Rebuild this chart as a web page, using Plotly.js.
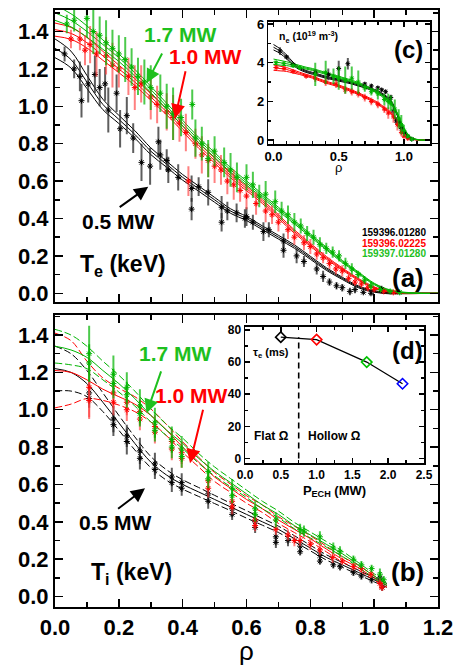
<!DOCTYPE html>
<html><head><meta charset="utf-8">
<script src="https://cdn.plot.ly/plotly-3.0.1.min.js"></script>
<style>html,body{margin:0;padding:0;background:#fff}#chart{width:460px;height:666px}</style>
</head><body><div id="chart"></div><script>
// ---- shots ----
const shotNames = ['159396.01280', '159396.02225', '159397.01280'];
const shotPower = ['0.5 MW', '1.0 MW', '1.7 MW'];

// ---- Te profile fits (panel a) ----
const rhoFit = [0,0.05,0.1,0.15,0.2,0.25,0.3,0.35,0.4,0.45,0.5,0.55,0.6,0.65,0.7,0.75,0.8,0.85,0.9,0.95,1.0,1.05,1.1,1.15,1.2];
const teFitA = [1.31,1.25,1.13,1.01,0.93,0.85,0.76,0.69,0.62,0.56,0.50,0.44,0.40,0.35,0.30,0.25,0.19,0.13,0.08,0.035,0.01,0.0,0.0,0.0,0.0];
const teFitB = [1.41,1.39,1.34,1.27,1.20,1.13,1.05,0.97,0.88,0.79,0.71,0.63,0.56,0.49,0.41,0.33,0.26,0.19,0.13,0.075,0.03,0.008,0.0,0.0,0.0];
const teFitC = [1.50,1.46,1.40,1.33,1.26,1.18,1.09,1.00,0.91,0.82,0.74,0.66,0.59,0.52,0.45,0.38,0.31,0.24,0.17,0.11,0.05,0.015,0.003,0.0,0.0];
const teBandA = [0.05,0.045,0.035,0.028,0.022,0.02,0.018,0.016,0.015,0.014,0.013,0.012,0.011,0.01,0.01,0.009,0.008,0.007,0.006,0.005,0.004,0.003,0.002,0.001,0.0];
const teBandB = [0.035,0.032,0.028,0.024,0.02,0.018,0.017,0.016,0.015,0.014,0.013,0.012,0.011,0.01,0.01,0.009,0.008,0.007,0.006,0.005,0.004,0.003,0.002,0.001,0.0];
const teBandC = [0.04,0.035,0.03,0.025,0.02,0.018,0.017,0.016,0.015,0.014,0.013,0.012,0.011,0.01,0.01,0.009,0.008,0.007,0.006,0.005,0.004,0.003,0.002,0.001,0.0];

// ---- Te measurements ----
const teRhoA = [0.03,0.06,0.078,0.083,0.104,0.125,0.14,0.157,0.167,0.193,0.204,0.225,0.245,0.271,0.298,0.324,0.33,0.35,0.355,0.386,0.428,0.428,0.45,0.48,0.522,0.522,0.54,0.569,0.595,0.6,0.62,0.653,0.67,0.716,0.716,0.757,0.78,0.82,0.84,0.86,0.882,0.9,0.924,0.94,0.966,0.99,1.023];
const teValA = [1.28,1.20,1.16,1.03,1.12,1.17,1.10,1.12,0.98,1.07,0.88,0.95,0.83,0.70,0.68,0.81,0.74,0.71,0.66,0.62,0.56,0.45,0.57,0.54,0.46,0.38,0.44,0.43,0.40,0.41,0.38,0.33,0.34,0.28,0.23,0.20,0.17,0.13,0.09,0.06,0.04,0.03,0.01,0.02,0.005,0.0,0.02];
const teErrA = [0.04,0.05,0.08,0.09,0.10,0.10,0.10,0.09,0.12,0.10,0.10,0.10,0.08,0.10,0.10,0.08,0.08,0.06,0.07,0.07,0.07,0.06,0.05,0.07,0.06,0.05,0.05,0.05,0.05,0.05,0.04,0.05,0.04,0.04,0.04,0.04,0.03,0.03,0.03,0.02,0.02,0.02,0.02,0.02,0.01,0.01,0.02];
const teRhoB = [0.05,0.078,0.094,0.11,0.13,0.16,0.18,0.2,0.23,0.25,0.27,0.30,0.32,0.35,0.37,0.39,0.41,0.418,0.44,0.46,0.48,0.5,0.52,0.54,0.56,0.58,0.6,0.63,0.66,0.68,0.7,0.73,0.75,0.78,0.8,0.82,0.84,0.86,0.88,0.9,0.92,0.94,0.96,0.98,1.0,1.03,1.06];
const teValB = [1.36,1.36,1.30,1.33,1.28,1.27,1.22,1.20,1.16,1.10,1.12,1.05,1.01,0.97,0.94,0.91,0.86,0.60,0.80,0.74,0.71,0.68,0.66,0.60,0.58,0.55,0.52,0.48,0.44,0.42,0.38,0.34,0.30,0.27,0.25,0.21,0.19,0.16,0.13,0.12,0.08,0.06,0.05,0.03,0.02,0.01,0.005];
const teErrB = [0.05,0.06,0.08,0.10,0.12,0.10,0.12,0.10,0.10,0.12,0.10,0.12,0.10,0.10,0.12,0.10,0.10,0.08,0.08,0.10,0.09,0.09,0.08,0.07,0.08,0.06,0.07,0.06,0.06,0.05,0.05,0.05,0.04,0.04,0.04,0.03,0.03,0.03,0.03,0.03,0.02,0.02,0.02,0.02,0.01,0.01,0.01];
const teRhoC = [0.037,0.06,0.1,0.12,0.14,0.16,0.18,0.2,0.22,0.24,0.26,0.28,0.30,0.33,0.35,0.37,0.395,0.43,0.44,0.46,0.48,0.5,0.53,0.55,0.57,0.6,0.62,0.64,0.66,0.69,0.71,0.73,0.75,0.77,0.79,0.81,0.83,0.85,0.87,0.89,0.91,0.93,0.95,0.97,0.99,1.02,1.05,1.08];
const teValC = [1.44,1.46,1.47,1.40,1.38,1.34,1.31,1.28,1.25,1.21,1.16,1.13,1.10,1.07,1.00,0.96,0.94,1.01,0.83,0.80,0.72,0.76,0.70,0.66,0.62,0.62,0.58,0.52,0.53,0.49,0.44,0.42,0.38,0.36,0.32,0.30,0.26,0.24,0.22,0.20,0.16,0.13,0.10,0.07,0.04,0.02,0.01,0.005];
const teErrC = [0.05,0.06,0.10,0.12,0.10,0.12,0.10,0.10,0.12,0.10,0.10,0.12,0.12,0.10,0.12,0.14,0.10,0.08,0.10,0.09,0.10,0.08,0.08,0.09,0.08,0.07,0.07,0.06,0.07,0.06,0.05,0.05,0.05,0.04,0.04,0.04,0.04,0.03,0.03,0.03,0.03,0.03,0.02,0.02,0.02,0.01,0.01,0.01];

// ---- Ti profile fits (panel b) ----
const rhoFitTi = [0,0.05,0.1,0.15,0.2,0.25,0.3,0.35,0.4,0.45,0.5,0.55,0.6,0.65,0.7,0.75,0.8,0.85,0.9,0.95,1.0,1.04];
const tiFitA = [1.22,1.20,1.14,1.04,0.93,0.82,0.72,0.65,0.60,0.56,0.52,0.48,0.44,0.40,0.36,0.31,0.26,0.21,0.17,0.13,0.09,0.06];
const tiFitB = [1.21,1.20,1.16,1.11,1.07,1.03,0.97,0.89,0.80,0.72,0.64,0.58,0.52,0.47,0.41,0.36,0.31,0.255,0.20,0.155,0.10,0.06];
const tiFitC = [1.34,1.32,1.28,1.21,1.14,1.06,0.97,0.89,0.82,0.74,0.67,0.61,0.55,0.49,0.44,0.38,0.33,0.28,0.23,0.17,0.11,0.07];
const tiBandA = [0.12,0.10,0.07,0.05,0.04,0.035,0.03,0.028,0.025,0.024,0.022,0.02,0.02,0.018,0.017,0.016,0.015,0.014,0.013,0.012,0.011,0.01];
const tiBandB = [0.20,0.17,0.10,0.06,0.045,0.04,0.035,0.03,0.028,0.026,0.024,0.022,0.02,0.02,0.018,0.017,0.016,0.015,0.014,0.013,0.012,0.01];
const tiBandC = [0.09,0.08,0.06,0.05,0.045,0.04,0.035,0.03,0.028,0.026,0.024,0.022,0.02,0.02,0.018,0.017,0.016,0.015,0.014,0.013,0.012,0.01];

// ---- Ti measurements ----
const tiRhoA = [0.107,0.107,0.183,0.183,0.225,0.225,0.266,0.266,0.313,0.313,0.366,0.366,0.397,0.397,0.48,0.48,0.555,0.555,0.627,0.627,0.692,0.692,0.73,0.768,0.768,0.83,0.83,0.872,0.893,0.935,0.96,0.992,1.018,1.025];
const tiValA = [1.09,1.06,0.95,0.92,0.86,0.83,0.78,0.74,0.71,0.68,0.64,0.61,0.61,0.58,0.55,0.51,0.47,0.44,0.40,0.37,0.32,0.29,0.30,0.27,0.24,0.22,0.19,0.17,0.16,0.13,0.11,0.09,0.10,0.05];
const tiErrA = [0.06,0.05,0.07,0.06,0.06,0.07,0.07,0.06,0.06,0.05,0.05,0.05,0.05,0.04,0.04,0.04,0.04,0.03,0.03,0.03,0.03,0.03,0.03,0.03,0.02,0.03,0.02,0.02,0.02,0.02,0.02,0.02,0.03,0.02];
const tiRhoB = [0.107,0.107,0.183,0.183,0.225,0.225,0.266,0.266,0.313,0.313,0.366,0.366,0.397,0.397,0.48,0.48,0.555,0.555,0.627,0.627,0.692,0.73,0.75,0.768,0.8,0.83,0.87,0.9,0.935,0.96,0.99,1.018,1.025];
const tiValB = [1.12,1.05,1.09,1.04,1.04,1.00,0.99,0.95,0.91,0.88,0.83,0.79,0.77,0.74,0.62,0.58,0.51,0.48,0.41,0.38,0.36,0.33,0.30,0.30,0.28,0.25,0.21,0.19,0.16,0.15,0.12,0.07,0.05];
const tiErrB = [0.16,0.10,0.08,0.07,0.07,0.06,0.07,0.06,0.06,0.06,0.06,0.06,0.06,0.05,0.05,0.05,0.04,0.04,0.04,0.03,0.03,0.03,0.03,0.03,0.03,0.03,0.03,0.02,0.02,0.02,0.02,0.03,0.02];
const tiRhoC = [0.107,0.107,0.183,0.183,0.225,0.225,0.266,0.266,0.313,0.313,0.366,0.366,0.397,0.397,0.48,0.48,0.555,0.555,0.627,0.627,0.692,0.768,0.78,0.83,0.872,0.893,0.935,0.96,0.992,1.018,1.03];
const tiValC = [1.30,1.25,1.19,1.14,1.12,1.08,1.02,0.98,0.93,0.89,0.84,0.80,0.79,0.75,0.67,0.63,0.58,0.54,0.47,0.44,0.41,0.36,0.35,0.32,0.26,0.24,0.20,0.17,0.15,0.12,0.09];
const tiErrC = [0.15,0.10,0.10,0.08,0.08,0.07,0.09,0.07,0.08,0.06,0.07,0.06,0.07,0.06,0.05,0.05,0.05,0.04,0.04,0.04,0.04,0.03,0.03,0.03,0.03,0.03,0.02,0.02,0.02,0.03,0.02];

// ---- ne profiles (inset c) ----
const neFitA = [4.8,4.6,4.3,3.95,3.7,3.55,3.45,3.35,3.25,3.18,3.1,3.03,2.95,2.85,2.75,2.63,2.5,2.3,2.0,1.3,0.45,0.1,0.02,0,0];
const neFitB = [3.75,3.7,3.65,3.55,3.45,3.35,3.25,3.12,3.0,2.9,2.8,2.68,2.55,2.4,2.25,2.08,1.9,1.65,1.4,0.95,0.3,0.08,0.02,0,0];
const neFitC = [4.05,4.0,3.95,3.88,3.8,3.72,3.65,3.55,3.45,3.35,3.25,3.15,3.05,2.93,2.8,2.63,2.45,2.2,1.9,1.35,0.6,0.15,0.03,0,0];
const neBand = [0.14,0.12,0.1,0.08,0.06,0.05,0.05,0.05,0.05,0.05,0.05,0.05,0.05,0.05,0.05,0.05,0.05,0.05,0.05,0.05,0.04,0.02,0.01,0,0];
const neRhoA = [0.05,0.1,0.15,0.32,0.42,0.5,0.57,0.7,0.75,0.8,0.83,0.86,0.9,0.92,0.94,0.96,0.98,1.0,1.03,1.06];
const neValA = [4.6,4.3,3.9,3.5,3.4,3.7,3.95,2.9,2.8,2.7,2.6,2.5,2.2,1.5,1.0,0.9,0.6,0.4,0.15,0.05];
const neErrA = [0.2,0.1,0.1,0.15,0.3,0.4,0.3,0.1,0.1,0.1,0.1,0.1,0.15,0.2,0.2,0.2,0.2,0.1,0.05,0.03];
const neRhoB = [0.02,0.08,0.15,0.25,0.32,0.4,0.48,0.55,0.6,0.65,0.7,0.75,0.8,0.85,0.88,0.92,0.95,0.98,1.0,1.03];
const neValB = [3.75,3.7,3.55,3.3,3.2,3.0,2.9,2.6,2.5,2.4,2.2,2.0,1.85,1.6,1.4,1.2,0.8,0.4,0.2,0.08];
const neErrB = [0.1,0.1,0.1,0.1,0.2,0.2,0.2,0.2,0.2,0.2,0.2,0.2,0.2,0.2,0.3,0.3,0.3,0.2,0.1,0.05];
const neRhoC = [0.02,0.08,0.15,0.2,0.32,0.4,0.46,0.5,0.55,0.6,0.65,0.7,0.75,0.8,0.85,0.88,0.9,0.93,0.96,0.98,1.0,1.03,1.06];
const neValC = [4.0,3.95,3.85,3.75,3.4,3.5,3.3,3.2,3.1,3.2,3.0,2.7,2.5,2.4,2.1,2.0,1.9,1.6,1.1,0.8,0.5,0.2,0.05];
const neErrC = [0.1,0.1,0.1,0.1,0.6,0.6,0.4,0.6,0.7,0.6,0.6,0.2,0.2,0.3,0.3,0.4,0.4,0.5,0.5,0.5,0.3,0.1,0.05];

// ---- confinement time vs ECH power (inset d) ----
const pech = [0.5, 1.0, 1.7, 2.2];
const tauE = [75.5, 74, 60, 46.5];
const tauColors = ['#000000', '#ff0000', '#00c000', '#0000ff'];
const flatHollowBoundary = 0.75;

// ---- styling ----
const lineCol = ['#000000', '#ff0000', '#00b400'];
const barCol = ['rgba(40,40,40,0.75)', 'rgba(255,60,60,0.65)', 'rgba(0,180,0,0.7)'];
const FONT = 'Liberation Sans, Arial, Helvetica, sans-serif';

function band(fit, w, s) { return fit.map((v, i) => v + s * w[i]); }

const traces = [];
function addFits(rho, fits, bands, xa, ya, bandDash) {
  fits.forEach((f, k) => {
    [-1, 0, 1].forEach(s => {
      traces.push({
        x: rho, y: s === 0 ? f : band(f, bands[k], s), xaxis: xa, yaxis: ya,
        mode: 'lines', line: {color: lineCol[k], width: 1, shape: 'spline',
          dash: (s !== 0 && bandDash) ? '7px,3px' : 'solid'},
        hoverinfo: 'skip', showlegend: false
      });
    });
  });
}
function addData(rhos, vals, errs, xa, ya, msize) {
  rhos.forEach((r, k) => {
    traces.push({
      x: r, y: vals[k], xaxis: xa, yaxis: ya, mode: 'markers',
      marker: {symbol: 'asterisk-open', size: msize, color: lineCol[k], line: {color: lineCol[k], width: 1}},
      error_y: {type: 'data', array: errs[k], visible: true, color: barCol[k], thickness: 2, width: 0},
      showlegend: false
    });
  });
}

// panel a: Te
addFits(rhoFit, [teFitA, teFitB, teFitC], [teBandA, teBandB, teBandC], 'x', 'y', false);
addData([teRhoA, teRhoB, teRhoC], [teValA, teValB, teValC], [teErrA, teErrB, teErrC], 'x', 'y', 5);
// panel b: Ti
addFits(rhoFitTi, [tiFitA, tiFitB, tiFitC], [tiBandA, tiBandB, tiBandC], 'x2', 'y2', true);
addData([tiRhoA, tiRhoB, tiRhoC], [tiValA, tiValB, tiValC], [tiErrA, tiErrB, tiErrC], 'x2', 'y2', 5);
// inset c: ne
addFits(rhoFit, [neFitA, neFitB, neFitC], [neBand, neBand, neBand], 'x3', 'y3', false);
addData([neRhoA, neRhoB, neRhoC], [neValA, neValB, neValC], [neErrA, neErrB, neErrC], 'x3', 'y3', 4);
// inset d: tau_e
traces.push({x: pech, y: tauE, xaxis: 'x4', yaxis: 'y4', mode: 'lines+markers',
  line: {color: '#000', width: 1.3},
  marker: {symbol: 'diamond-open', size: 8, color: tauColors, line: {color: tauColors, width: 1.6}},
  showlegend: false});

// pixel helpers for domains on a 460x666 page
const W = 460, H = 666;
const dx = (a, b) => [a / W, b / W];
const dy = (top, bot) => [1 - bot / H, 1 - top / H];

const tickBold = (s) => ({family: FONT, size: s, color: '#000', weight: 'bold'});
function axis(extra) {
  return Object.assign({
    showline: true, linecolor: '#000', linewidth: 2, mirror: 'ticks',
    ticks: 'inside', tickcolor: '#000', tickwidth: 1.5, ticklen: 8,
    showgrid: false, zeroline: false, tickfont: tickBold(22)
  }, extra);
}

const layout = {
  width: W, height: H, margin: {l: 0, r: 0, t: 0, b: 0},
  paper_bgcolor: '#fff', plot_bgcolor: '#fff', showlegend: false,
  font: {family: FONT, color: '#000'},
  xaxis: axis({domain: dx(55, 438), range: [0, 1.2], dtick: 0.2, showticklabels: false,
    minor: {dtick: 0.1, ticks: 'inside', ticklen: 5, tickcolor: '#000'}, anchor: 'y'}),
  yaxis: axis({domain: dy(10, 301.7), range: [-0.045, 1.515], dtick: 0.2, tick0: 0, tickformat: '.1f',
    minor: {dtick: 0.1, ticks: 'inside', ticklen: 5, tickcolor: '#000'}, anchor: 'x'}),
  xaxis2: axis({domain: dx(55, 438), range: [0, 1.2], dtick: 0.2, tickformat: '.1f',
    minor: {dtick: 0.1, ticks: 'inside', ticklen: 5, tickcolor: '#000'}, anchor: 'y2',
    title: {text: 'ρ', font: {family: FONT, size: 26}, standoff: 9}}),
  yaxis2: axis({domain: dy(315, 606.7), range: [-0.054, 1.507], dtick: 0.2, tick0: 0, tickformat: '.1f',
    minor: {dtick: 0.1, ticks: 'inside', ticklen: 5, tickcolor: '#000'}, anchor: 'x2'}),
  xaxis3: axis({domain: dx(268.3, 430), range: [-0.04, 1.2], dtick: 0.5, tickformat: '.1f', linewidth: 1.5,
    ticklen: 5, tickfont: tickBold(13), minor: {dtick: 0.1, ticks: 'inside', ticklen: 3, tickcolor: '#000'},
    anchor: 'y3'}),
  yaxis3: axis({domain: dy(21.7, 144), range: [-0.2, 6.12], dtick: 2, linewidth: 1.5, ticklen: 5,
    tickfont: tickBold(13), minor: {dtick: 1, ticks: 'inside', ticklen: 3, tickcolor: '#000'}, anchor: 'x3'}),
  xaxis4: axis({domain: dx(245, 424), range: [0, 2.5], dtick: 0.5, tickformat: '.1f', linewidth: 1.5,
    ticklen: 5, tickfont: tickBold(12), minor: {dtick: 0.25, ticks: 'inside', ticklen: 3, tickcolor: '#000'},
    anchor: 'y4', title: {text: 'P<sub>ECH</sub> (MW)', font: {family: FONT, size: 13, weight: 'bold'}, standoff: 4}}),
  yaxis4: axis({domain: dy(326.7, 463.3), range: [-3, 82], dtick: 20, linewidth: 1.5, ticklen: 5,
    tickfont: tickBold(12), minor: {dtick: 10, ticks: 'inside', ticklen: 3, tickcolor: '#000'}, anchor: 'x4'}),
  shapes: [{type: 'line', xref: 'x4', yref: 'y4', x0: flatHollowBoundary, x1: flatHollowBoundary,
    y0: 0, y1: tauE[0], line: {color: '#000', width: 1.6, dash: '6px,4px'}}],
  annotations: []
};

const ann = layout.annotations;
function label(xr, yr, x, y, text, size, color, anchor) {
  ann.push({xref: xr, yref: yr, x: x, y: y, text: text, showarrow: false,
    xanchor: anchor || 'center', yanchor: 'middle',
    font: {family: FONT, size: size, color: color, weight: 'bold'}});
}
function arrow(xr, yr, x, y, ax, ay, color) {
  ann.push({xref: xr, yref: yr, axref: xr, ayref: yr, x: x, y: y, ax: ax, ay: ay, text: '',
    showarrow: true, arrowhead: 2, arrowsize: 1.4, arrowwidth: 2, arrowcolor: color});
}

// panel a
label('x', 'y', 0.392, 1.383, shotPower[2], 21, '#1ec01e');
label('x', 'y', 0.47, 1.266, shotPower[1], 21, '#ff0000');
label('x', 'y', 0.198, 0.383, shotPower[0], 21, '#000');
arrow('x', 'y', 0.287, 1.124, 0.338, 1.29, '#1ec01e');
arrow('x', 'y', 0.376, 0.936, 0.41, 1.195, '#ff0000');
arrow('x', 'y', 0.292, 0.57, 0.198, 0.455, '#000');
label('x', 'y', 0.213, 0.151, 'T<sub>e</sub> (keV)', 23, '#000');
label('x', 'y', 1.106, 0.082, '(a)', 26, '#000');
[232.5, 243, 253.5].forEach((py, k) => {
  ann.push({xref: 'paper', yref: 'paper', x: 428 / W, y: 1 - py / H, text: shotNames[k],
    showarrow: false, xanchor: 'right', yanchor: 'middle',
    font: {family: FONT, size: 10, color: ['#000', '#ff0000', '#1ec01e'][k], weight: 'bold'}});
});

// panel b
label('x2', 'y2', 0.376, 1.302, shotPower[2], 21, '#1ec01e');
label('x2', 'y2', 0.428, 1.074, shotPower[1], 21, '#ff0000');
label('x2', 'y2', 0.188, 0.398, shotPower[0], 21, '#000');
arrow('x2', 'y2', 0.287, 0.981, 0.334, 1.213, '#1ec01e');
arrow('x2', 'y2', 0.423, 0.714, 0.465, 1.008, '#ff0000');
arrow('x2', 'y2', 0.282, 0.58, 0.193, 0.464, '#000');
label('x2', 'y2', 0.24, 0.125, 'T<sub>i</sub> (keV)', 23, '#000');
label('x2', 'y2', 1.104, 0.134, '(b)', 26, '#000');

// inset c
label('x3', 'y3', 0.03, 5.33, 'n<sub>e</sub> (10<sup>19</sup> m<sup>-3</sup>)', 10.5, '#000', 'left');
label('x3', 'y3', 1.033, 4.66, '(c)', 24, '#000');
ann.push({xref: 'x3', yref: 'paper', x: 0.5, y: 1 - 168 / H, text: 'ρ', showarrow: false,
  xanchor: 'center', yanchor: 'middle', font: {family: FONT, size: 13, color: '#000'}});

// inset d
label('x4', 'y4', 0.36, 65.5, 'τ<sub>e</sub> (ms)', 11, '#000');
label('x4', 'y4', 0.37, 14, 'Flat Ω', 12, '#000');
label('x4', 'y4', 1.25, 14, 'Hollow Ω', 12, '#000');
label('x4', 'y4', 2.27, 67.5, '(d)', 24, '#000');

Plotly.newPlot('chart', traces, layout, {staticPlot: true, displayModeBar: false});
</script></body></html>
